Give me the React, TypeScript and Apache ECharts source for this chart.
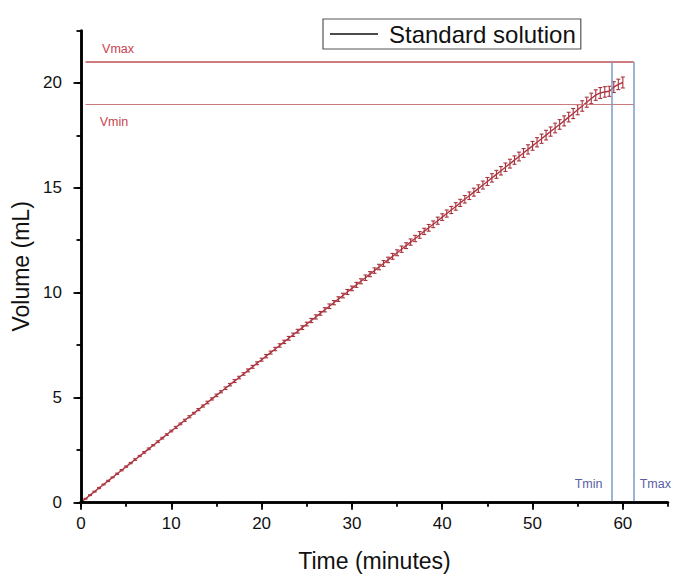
import React, { useEffect, useRef } from "react";
import * as echarts from "echarts";

// ---- Data ----
const TIME = [
  0, 0.5, 1, 1.5, 2, 2.5, 3, 3.5, 4, 4.5, 5, 5.5, 6, 6.5, 7, 7.5, 8, 8.5, 9, 9.5,
  10, 10.5, 11, 11.5, 12, 12.5, 13, 13.5, 14, 14.5, 15, 15.5, 16, 16.5, 17, 17.5, 18, 18.5, 19, 19.5,
  20, 20.5, 21, 21.5, 22, 22.5, 23, 23.5, 24, 24.5, 25, 25.5, 26, 26.5, 27, 27.5, 28, 28.5, 29, 29.5,
  30, 30.5, 31, 31.5, 32, 32.5, 33, 33.5, 34, 34.5, 35, 35.5, 36, 36.5, 37, 37.5, 38, 38.5, 39, 39.5,
  40, 40.5, 41, 41.5, 42, 42.5, 43, 43.5, 44, 44.5, 45, 45.5, 46, 46.5, 47, 47.5, 48, 48.5, 49, 49.5,
  50, 50.5, 51, 51.5, 52, 52.5, 53, 53.5, 54, 54.5, 55, 55.5, 56, 56.5, 57, 57.5, 58, 58.5, 59, 59.5,
  60,
];
const VOLUME = [
  0, 0.17, 0.34, 0.51, 0.68, 0.85, 1.02, 1.19, 1.36, 1.53, 1.7, 1.87, 2.04, 2.21, 2.38, 2.55, 2.72, 2.89, 3.06, 3.23,
  3.4, 3.57, 3.74, 3.91, 4.08, 4.25, 4.42, 4.59, 4.76, 4.93, 5.1, 5.27, 5.44, 5.61, 5.78, 5.95, 6.12, 6.29, 6.46, 6.63,
  6.8, 6.97, 7.14, 7.31, 7.48, 7.65, 7.82, 7.99, 8.16, 8.33, 8.5, 8.67, 8.84, 9.01, 9.18, 9.35, 9.52, 9.69, 9.86, 10.03,
  10.2, 10.37, 10.54, 10.71, 10.88, 11.05, 11.22, 11.39, 11.56, 11.73, 11.9, 12.07, 12.24, 12.41, 12.58, 12.75, 12.92, 13.09, 13.26, 13.43,
  13.6, 13.77, 13.94, 14.11, 14.28, 14.45, 14.62, 14.79, 14.96, 15.13, 15.3, 15.47, 15.64, 15.81, 15.98, 16.15, 16.32, 16.49, 16.66, 16.83,
  17.0, 17.17, 17.34, 17.51, 17.68, 17.85, 18.02, 18.19, 18.37, 18.54, 18.72, 18.9, 19.08, 19.26, 19.42, 19.52, 19.57, 19.6, 19.8, 19.93,
  20.02,
];
const ERROR = [
  0.02, 0.02, 0.02, 0.02, 0.03, 0.02, 0.03, 0.02, 0.03, 0.03, 0.03,
  0.03, 0.04, 0.03, 0.04, 0.04, 0.03, 0.04, 0.04, 0.04,
  0.04, 0.05, 0.04, 0.05, 0.05, 0.04, 0.05, 0.05, 0.06, 0.05,
  0.06, 0.05, 0.06, 0.06, 0.07, 0.06, 0.06, 0.07, 0.07, 0.07,
  0.07, 0.08, 0.07, 0.08, 0.08, 0.08, 0.09, 0.08, 0.09, 0.09,
  0.09, 0.1, 0.1, 0.09, 0.1, 0.11, 0.1, 0.11, 0.11, 0.12,
  0.11, 0.12, 0.12, 0.13, 0.12, 0.13, 0.13, 0.14, 0.13, 0.14,
  0.14, 0.15, 0.14, 0.15, 0.15, 0.16, 0.15, 0.16, 0.16, 0.17,
  0.16, 0.17, 0.17, 0.18, 0.17, 0.18, 0.18, 0.19, 0.18, 0.19,
  0.19, 0.2, 0.19, 0.2, 0.2, 0.21, 0.2, 0.21, 0.21, 0.22,
  0.21, 0.22, 0.22, 0.23, 0.22, 0.23, 0.23, 0.24, 0.23, 0.24,
  0.24, 0.25, 0.24, 0.25, 0.25, 0.26, 0.25, 0.24, 0.26, 0.25, 0.26,
];
const SERIES_NAME = "Standard solution";
const X_MAX = 65;
const Y_MAX = 22.5;
const VMAX = 21;
const VMIN = 19;
const TMIN = 58.8;
const TMAX = 61.2;
const LINE_START = 0.5;

// ---- Layout ----
const W = 684;
const H = 575;
const G_LEFT = 81;
const G_RIGHT = 16;
const G_TOP = 30.5;
const G_BOTTOM = 72.7;
const PLOT_W = W - G_LEFT - G_RIGHT;
const PLOT_H = H - G_TOP - G_BOTTOM;
const FONT = "Liberation Sans, Arial, sans-serif";
const RED = "#ad3640";
const BLUE = "#7d9ac4";

export default function App() {
  const ref = useRef<HTMLDivElement>(null);

  useEffect(() => {
    if (!ref.current) return;
    const chart = echarts.init(ref.current, undefined, { renderer: "svg" });

    const points = TIME.map((t, i) => [t, VOLUME[i]]);
    const errPoints = TIME.map((t, i) => [t, VOLUME[i], ERROR[i]]);

    const grid2Right = G_RIGHT + ((X_MAX - 60) / X_MAX) * PLOT_W;
    const grid2Top = G_TOP + ((Y_MAX - 20) / Y_MAX) * PLOT_H;

    const tickAxis = (gridIndex: number, max: number, interval: number, len: number, line: boolean) => ({
      type: "value",
      gridIndex,
      min: 0,
      max,
      interval,
      z: 10,
      axisLine: { show: line, lineStyle: { color: "#000000", width: 2.5, opacity: 1 } },
      axisTick: { show: true, length: len, lineStyle: { color: "#000000", width: 1.8, opacity: 1 } },
      axisLabel: { show: false },
      splitLine: { show: false },
    });

    const option: any = {
      animation: false,
      grid: [
        { left: G_LEFT, right: G_RIGHT, top: G_TOP, bottom: G_BOTTOM, outerBoundsMode: "none" },
        { left: G_LEFT, right: grid2Right, top: grid2Top, bottom: G_BOTTOM, outerBoundsMode: "none" },
        { left: G_LEFT, right: G_RIGHT, top: G_TOP, bottom: G_BOTTOM, outerBoundsMode: "none" },
      ],
      legend: {
        data: [SERIES_NAME],
        icon: "rect",
        left: 323,
        top: 19,
        padding: [3, 5, 3, 7],
        itemWidth: 48,
        itemHeight: 1.5,
        borderColor: "#555",
        borderWidth: 1.2,
        textStyle: { fontSize: 24, color: "#111", fontFamily: FONT, padding: [0, 0, 0, 6] },
      },
      xAxis: [
        {
          type: "value",
          gridIndex: 0,
          min: 0,
          max: X_MAX,
          interval: 10,
          axisLine: { show: false },
          axisTick: { show: false },
          axisLabel: {
            fontSize: 17,
            color: "#111",
            fontFamily: FONT,
            margin: 13,
            formatter: (v: number) => (v % 10 === 0 && v <= 60 ? String(v) : ""),
          },
          splitLine: { show: false },
          name: "Time (minutes)",
          nameLocation: "middle",
          nameGap: 47,
          nameTextStyle: { fontSize: 23, color: "#111", fontFamily: FONT },
        },
        tickAxis(1, 60, 10, 7.5, false),
        tickAxis(2, X_MAX, 5, 4.5, true),
      ],
      yAxis: [
        {
          type: "value",
          gridIndex: 0,
          min: 0,
          max: Y_MAX,
          interval: 5,
          axisLine: { show: false },
          axisTick: { show: false },
          axisLabel: {
            fontSize: 17,
            color: "#111",
            fontFamily: FONT,
            margin: 19,
            formatter: (v: number) => (v % 5 === 0 && v <= 20 ? String(v) : ""),
          },
          splitLine: { show: false },
          name: "Volume (mL)",
          nameLocation: "middle",
          nameGap: 43,
          nameTextStyle: { fontSize: 23, color: "#111", fontFamily: FONT },
        },
        tickAxis(1, 20, 5, 7.5, false),
        tickAxis(2, Y_MAX, 2.5, 4.5, true),
      ],
      series: [
        {
          name: SERIES_NAME,
          type: "line",
          xAxisIndex: 0,
          yAxisIndex: 0,
          data: [],
          itemStyle: { color: "#111" },
          lineStyle: { color: "#111" },
        },
        {
          type: "custom",
          xAxisIndex: 0,
          yAxisIndex: 0,
          data: errPoints,
          renderItem: (params: any, api: any) => {
            const x = api.value(0);
            const y = api.value(1);
            const e = api.value(2);
            const top = api.coord([x, y + e]);
            const bot = api.coord([x, y - e]);
            const cap = 2;
            const style = { stroke: "#a8323c", lineWidth: 1.1 };
            return {
              type: "group",
              children: [
                { type: "line", shape: { x1: top[0], y1: top[1], x2: bot[0], y2: bot[1] }, style },
                { type: "line", shape: { x1: top[0] - cap, y1: top[1], x2: top[0] + cap, y2: top[1] }, style },
                { type: "line", shape: { x1: bot[0] - cap, y1: bot[1], x2: bot[0] + cap, y2: bot[1] }, style },
              ],
            };
          },
        },
        {
          type: "line",
          xAxisIndex: 0,
          yAxisIndex: 0,
          data: points,
          showSymbol: false,
          clip: false,
          lineStyle: { color: RED, width: 1.4 },
          markLine: {
            silent: true,
            symbol: ["none", "none"],
            label: { show: false },
            data: [
              [
                { coord: [0, 0], lineStyle: { color: "#000000", width: 2.5, type: "solid" } },
                { coord: [X_MAX, 0] },
              ],
              [
                { coord: [0, 0], lineStyle: { color: "#000000", width: 2.5, type: "solid" } },
                { coord: [0, Y_MAX] },
              ],
              [
                { coord: [LINE_START, VMAX], lineStyle: { color: "#bd5055", width: 1.6, type: "solid" } },
                { coord: [TMAX, VMAX] },
              ],
              [
                { coord: [LINE_START, VMIN], lineStyle: { color: "#cc7a7d", width: 1.1, type: "solid" } },
                { coord: [TMAX, VMIN] },
              ],
              [
                { coord: [TMIN, VMAX], lineStyle: { color: BLUE, width: 1.5, type: "solid" } },
                { coord: [TMIN, 0] },
              ],
              [
                { coord: [TMAX, VMAX], lineStyle: { color: BLUE, width: 1.5, type: "solid" } },
                { coord: [TMAX, 0] },
              ],
            ],
          },
          markPoint: {
            silent: true,
            symbol: "circle",
            symbolSize: 1,
            itemStyle: { color: "rgba(0,0,0,0)" },
            label: { show: true, position: "inside", fontSize: 12.5, fontFamily: FONT },
            data: [
              { coord: [4.1, VMAX + 0.6], label: { formatter: "Vmax", color: "#c8444f" } },
              { coord: [3.65, VMIN - 0.85], label: { formatter: "Vmin", color: "#c8444f" } },
              { coord: [TMIN - 2.6, 0.87], label: { formatter: "Tmin", color: "#5a5ea6" } },
              { coord: [TMAX + 2.4, 0.87], label: { formatter: "Tmax", color: "#5a5ea6" } },
            ],
          },
        },
      ],
    };

    chart.setOption(option);
    return () => chart.dispose();
  }, []);

  return (
    <div
      ref={ref}
      style={{ position: "absolute", left: 0, top: 0, width: W, height: H, background: "#fff" }}
    />
  );
}
